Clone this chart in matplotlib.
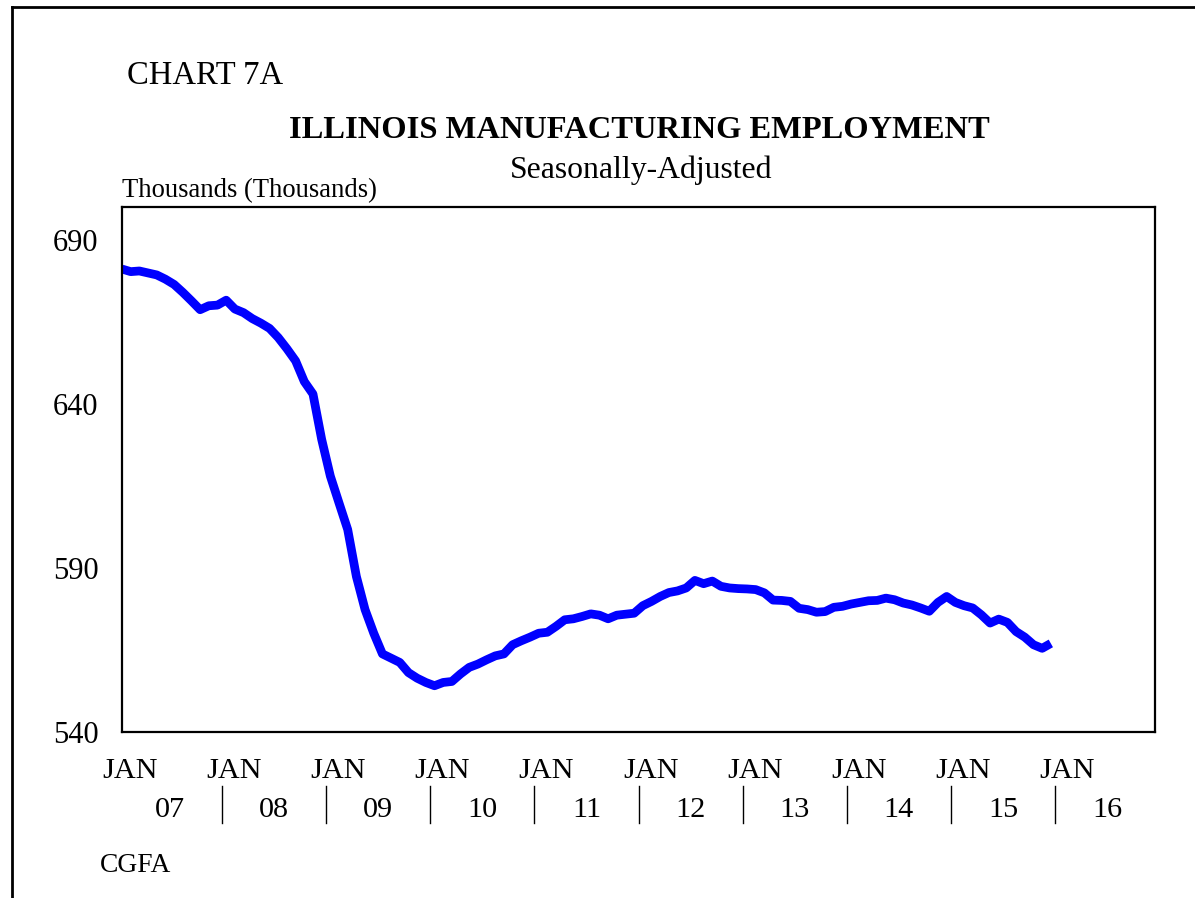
import matplotlib
matplotlib.use("Agg")
import matplotlib.pyplot as plt
from matplotlib.lines import Line2D
import matplotlib.transforms as mtransforms

# ---- data (monthly, Jan 2007 .. Dec 2015), thousands ----
employment = [
    681.1, 680.3, 680.5, 679.9, 679.3, 678.0, 676.4, 674.0, 671.4, 668.7, 669.9, 670.1,
    671.6, 668.9, 667.8, 666.0, 664.6, 663.0, 660.2, 656.8, 653.1, 646.8, 643.0, 629.2,
    618.0, 609.8, 601.7, 587.4, 577.3, 570.1, 563.8, 562.5, 561.2, 558.1, 556.4, 555.1,
    554.1, 555.1, 555.4, 557.7, 559.7, 560.7, 562.0, 563.2, 563.8, 566.6, 567.8, 568.9,
    570.1, 570.4, 572.2, 574.2, 574.5, 575.2, 576.0, 575.6, 574.5, 575.6, 575.9, 576.2,
    578.5, 579.8, 581.3, 582.5, 583.0, 583.9, 586.2, 585.2, 586.0, 584.4, 583.9, 583.7,
    583.6, 583.4, 582.4, 580.2, 580.1, 579.8, 577.7, 577.3, 576.5, 576.7, 578.0, 578.3,
    579.0, 579.5, 580.0, 580.1, 580.8, 580.3, 579.3, 578.7, 577.8, 576.8, 579.5, 581.3,
    579.5, 578.5, 577.8, 575.7, 573.2, 574.4, 573.4, 570.6, 568.9, 566.6, 565.5, 567.0,
]
months = list(range(len(employment)))
year_labels = ["07", "08", "09", "10", "11", "12", "13", "14", "15", "16"]
month_label = "JAN"
y_ticks = [540, 590, 640, 690]

W, H = 1195, 898
fig = plt.figure(figsize=(W / 100, H / 100), dpi=100)
plt.rcParams['font.family'] = ['Liberation Serif', 'DejaVu Serif']

def fx(px):
    return px / W

def fy(py):
    return 1 - py / H

# outer frame (left and top edges visible)
fig.add_artist(Line2D([fx(12), fx(12)], [fy(7), fy(H + 5)], color='black', lw=2.0,
                      transform=fig.transFigure))
fig.add_artist(Line2D([fx(12), fx(W + 5)], [fy(7), fy(7)], color='black', lw=2.0,
                      transform=fig.transFigure))

ax_l, ax_r, ax_t, ax_b = 122, 1155, 207, 732
ax = fig.add_axes([fx(ax_l), fy(ax_b), fx(ax_r - ax_l), (ax_b - ax_t) / H])
ax.plot(months, employment, color='#0000ff', lw=6.3, solid_joinstyle='round',
        solid_capstyle='butt')
ax.set_xlim(0, 119)
ax.set_ylim(540, 700)
for s in ax.spines.values():
    s.set_linewidth(1.6)
ax.set_xticks([])
ax.set_yticks(y_ticks)
ax.set_yticklabels([str(v) for v in y_ticks], fontsize=22)
ax.tick_params(axis='y', length=0, pad=17)

# x labels
trans = mtransforms.blended_transform_factory(ax.transData, fig.transFigure)
for k, yl in enumerate(year_labels):
    ax.text(12 * k + 0.9, fy(771), month_label, transform=trans, ha='center', va='center',
            fontsize=21.8, clip_on=False)
    ax.text(12 * k + 5.5, fy(810), yl, transform=trans, ha='center', va='center',
            fontsize=21.8, clip_on=False)
    if k > 0:
        ax.add_artist(Line2D([12 * k - 0.5, 12 * k - 0.5], [fy(786), fy(823)],
                             transform=trans, color='black', lw=1.0, clip_on=False))

# texts
fig.text(fx(127), fy(76), "CHART 7A", ha='left', va='center', fontsize=23.5)
fig.text(fx(639), fy(131), "ILLINOIS MANUFACTURING EMPLOYMENT", ha='center', va='center',
         fontsize=23.4, fontweight='bold')
fig.text(fx(641), fy(170), "Seasonally-Adjusted", ha='center', va='center', fontsize=22.9)
fig.text(fx(122), fy(191), "Thousands (Thousands)", ha='left', va='center', fontsize=19.2)
fig.text(fx(100), fy(865), "CGFA", ha='left', va='center', fontsize=19.8)

fig.savefig("out.png", dpi=100)
